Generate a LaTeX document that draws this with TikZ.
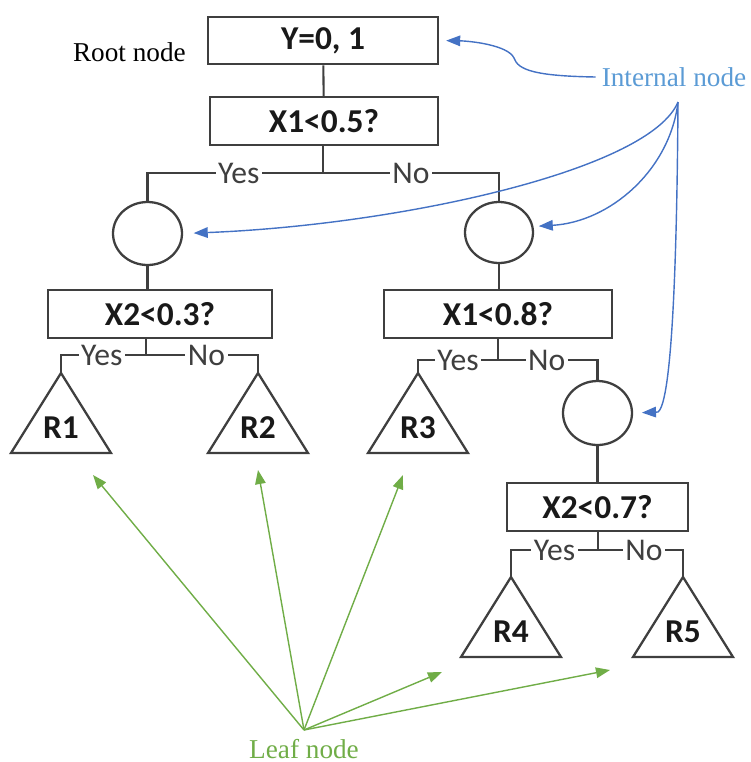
\documentclass[tikz,border=0pt]{standalone}
\usepackage{fontspec}
\setmainfont{Liberation Serif}
\setsansfont{Carlito}
\usetikzlibrary{shapes.geometric,arrows.meta}
\definecolor{linegray}{HTML}{3F3F3F}
\definecolor{intblue}{HTML}{5B9BD5}
\definecolor{arrblue}{HTML}{4472C4}
\definecolor{leafgreen}{HTML}{70AD47}
\begin{document}
\begin{tikzpicture}[x=0.02cm,y=-0.02cm,
  box/.style={draw=linegray,line width=1.3pt,minimum height=0.95cm,text=black!90,
    font=\sffamily\bfseries\fontsize{19}{22}\selectfont},
  split/.style={draw=linegray,line width=1.3pt,ellipse,minimum width=1.38cm,
    minimum height=1.26cm,inner sep=0pt},
  edge/.style={draw=linegray,line width=1.2pt},
  ans/.style={fill=white,inner sep=1.5pt,text=linegray,font=\sffamily\fontsize{18}{20}\selectfont},
  leaf/.style={text=black!90,font=\sffamily\bfseries\fontsize{19}{22}\selectfont},
  note/.style={font=\fontsize{15.5}{18}\selectfont},
  blarrow/.style={arrblue,line width=0.8pt,-{Triangle[length=8pt,width=6pt]}},
  grarrow/.style={leafgreen,line width=0.8pt,-{Triangle[length=8pt,width=6pt]}}]
\useasboundingbox (0,0) rectangle (751,762);
% the tree
\node[box,minimum width=4.6cm] (root) at (323,40.5) {Y=0, 1};
\node[note,anchor=east] (rootlbl) at (192,52) {Root node};
\node[box,minimum width=4.56cm] (q1) at (324,121) {X1<0.5?};
\node[split] (c1) at (147.5,233.5) {};
\node[split,minimum width=1.36cm,minimum height=1.22cm] (c2) at (499,232.5) {};
\node[box,minimum width=4.48cm] (q2) at (160,314) {X2<0.3?};
\node[box,minimum width=4.56cm] (q3) at (498,314) {X1<0.8?};
\node[split,minimum height=1.28cm] (c3) at (597.5,413) {};
\node[box,minimum width=3.62cm] (q4) at (597.5,507) {X2<0.7?};
\foreach \n/\x/\y in {1/61/373, 2/258/373, 3/418/373, 4/511/577, 5/683/577}{
  \draw[edge,line width=1.3pt,line join=miter] (\x,\y) coordinate (t\n) -- ++(50,80) -- ++(-100,0) -- cycle;
  \node[leaf] (r\n) at (\x,\y+55) {R\n};
}
\coordinate (s1) at (323,173);
\coordinate (s2) at (146,355);
\coordinate (s3) at (498,360);
\coordinate (s4) at (598,550);
\draw[edge] (root) -- (q1);
\draw[edge] (q1.south -| s1) -- (s1);
\draw[edge] (s1) -| node[ans,pos=0.24]{Yes} (c1.north);
\draw[edge] (s1) -| node[ans,pos=0.25]{No} (c2.north);
\draw[edge] (c1.south) -- (c1.south |- q2.north);
\draw[edge] (s2 |- q2.south) -- (s2);
\draw[edge] (s2) -| node[ans,pos=0.26]{Yes} (t1);
\draw[edge] (s2) -| node[ans,pos=0.27]{No} (t2);
\draw[edge] (c2.south) -- (c2.south |- q3.north);
\draw[edge] (s3 |- q3.south) -- (s3);
\draw[edge] (s3) -| node[ans,pos=0.25]{Yes} (t3);
\draw[edge] (s3) -| node[ans,pos=0.245]{No} (c3.north);
\draw[edge] (c3.south) -- (c3.south |- q4.north);
\draw[edge] (s4 |- q4.south) -- (s4);
\draw[edge] (s4) -| node[ans,pos=0.25]{Yes} (t4);
\draw[edge] (s4) -| node[ans,pos=0.27]{No} (t5);
% internal nodes
\node[note,text=intblue] (intlbl) at (674,77) {Internal node};
\coordinate (ifan) at (678,102);
\draw[blarrow,shorten >=4pt] (intlbl.west) .. controls (535,76) and (518,70) .. (514,58)
  .. controls (508,45) and (470,41) .. (root.east);
\draw[blarrow,shorten >=6pt] (ifan) .. controls (650,170) and (400,225) .. (c1.east);
\draw[blarrow,shorten >=3pt] (ifan) .. controls (670,170) and (610,222) .. (c2.10);
\draw[blarrow,shorten >=5pt] (ifan) .. controls (677,260) and (672,402) .. (658,412) -- (c3.east);
% leaves
\node[note,text=leafgreen] (leaflbl) at (304,749) {Leaf node};
\coordinate (lfan) at (304,730);
\foreach \n/\x/\y in {1/93/475, 2/258/470, 3/403/475, 4/442/672, 5/610/670}{
  \coordinate (g\n) at (\x,\y);
  \draw[grarrow] (lfan) -- (g\n);
}
\end{tikzpicture}
\end{document}
